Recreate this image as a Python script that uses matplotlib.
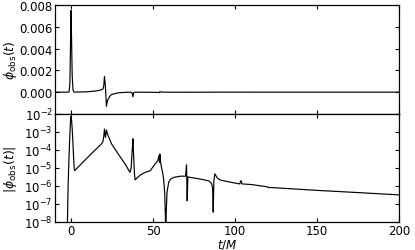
"""Observed field phi_obs(t): linear view on top, log |phi| below."""

import numpy as np
import matplotlib
matplotlib.use("Agg")
import matplotlib.pyplot as plt
from matplotlib.ticker import LogLocator, NullLocator

# time samples (t/M) and signed field values
t_vals = [
    -10.0, -3.0, -2.6, -2.0, -1.4, -0.9, -0.5, -0.25, 0.1, 0.5, 1.0, 1.5, 1.9,
    5.0, 10.0, 15.0, 18.0, 19.3, 19.8, 20.2, 20.8, 21.4, 22.0, 23.5, 24.5, 28.6,
    32.7, 35.8, 36.5, 37.2, 37.6, 38.0, 38.5, 38.9, 42.0, 45.0, 48.1, 51.2,
    52.7, 53.5, 53.8, 54.0, 54.5, 55.0, 55.8, 56.4, 57.0, 57.4, 57.6, 57.9,
    58.4, 59.4, 60.5, 62.5, 66.6, 69.7, 70.3, 70.7, 71.1, 72.5, 79.0, 84.0,
    85.5, 86.2, 86.6, 87.0, 87.6, 89.3, 91.3, 97.5, 102.8, 103.5, 104.2,
    110.0, 119.5, 120.3, 121.0, 150.0, 175.0, 200.0,
]
phi_vals = [
    1e-12, 1e-12, 1e-9, 1e-6, 5e-5, 8e-4, 4.5e-3, 7.5e-3, 5e-3, 1.5e-3, 2e-4, 2e-5, 7e-6,
    1.35e-5, 3.9e-5, 1.1e-4, 2e-4, 2.9e-4, 6e-4, 1.45e-3, 5e-4, -1.3e-3, -7.8e-4, -3.7e-4, -2.2e-4, -6e-5,
    -1.7e-5, -5.7e-6, -1e-5, -1.2e-4, -4.2e-4, -5e-5, -5e-6, -2.2e-6, -4e-6, -5.7e-6, -7e-6, -1.7e-5,
    -2.5e-5, -5e-5, -2e-5, 6e-5, 2e-5, 1.1e-5, 5e-6, 2e-6, 4e-7, 2e-8, 1e-9, -3e-8,
    -4.5e-7, -1.6e-6, -2.4e-6, -3e-6, -3.5e-6, -3.5e-6, -1.5e-5, -1.5e-7, -3.2e-6, -3e-6, -2.4e-6, -1.9e-6,
    -1.4e-6, -8e-7, -3.5e-8, 2e-6, 4.7e-6, 2.6e-6, 2.1e-6, 1.6e-6, 1.3e-6, 2e-6, 1.3e-6,
    1.2e-6, 9e-7, 8e-7, 8.3e-7, 5.7e-7, 4.3e-7, 3.2e-7,
]

lin_ticks = [0.0, 0.002, 0.004, 0.006, 0.008]
x_ticks = [0, 50, 100, 150, 200]

plt.rcParams["font.size"] = 8.5
plt.rcParams["mathtext.fontset"] = "dejavusans"

t = np.array(t_vals)
phi = np.array(phi_vals)

fig = plt.figure(figsize=(4.15, 2.51), dpi=100)
ax1 = fig.add_axes([0.1325, 0.542, 0.8289, 0.434])
ax2 = fig.add_axes([0.1325, 0.1116, 0.8289, 0.4304], sharex=ax1)

ax1.plot(t, phi, color="black", lw=0.85)
ax1.set_ylim(-0.002, 0.008)
ax1.set_yticks(lin_ticks)
ax1.set_yticklabels([f"{v:.3f}" for v in lin_ticks])
ax1.set_ylabel(r"$\phi_{\rm obs}(t)$", fontsize=9)
plt.setp(ax1.get_xticklabels(), visible=False)

ax2.semilogy(t, np.abs(phi), color="black", lw=0.85)
ax2.set_ylim(1e-8, 1e-2)
ax2.yaxis.set_major_locator(LogLocator(base=10, numticks=10))
ax2.yaxis.set_minor_locator(NullLocator())
ax2.set_ylabel(r"$|\phi_{\rm obs}(t)|$", fontsize=9)
ax2.set_xlabel(r"$t/M$", fontsize=8.5)
ax2.xaxis.set_label_coords(0.5, -0.14)

ax2.set_xlim(-10, 200)
ax2.set_xticks(x_ticks)

for ax in (ax1, ax2):
    ax.tick_params(direction="in", length=3, width=0.8, top=True, right=True, pad=1.5)
    ax.yaxis.set_label_coords(-0.105, 0.5)
    for sp in ax.spines.values():
        sp.set_linewidth(0.9)

fig.savefig("out.png", dpi=100)
